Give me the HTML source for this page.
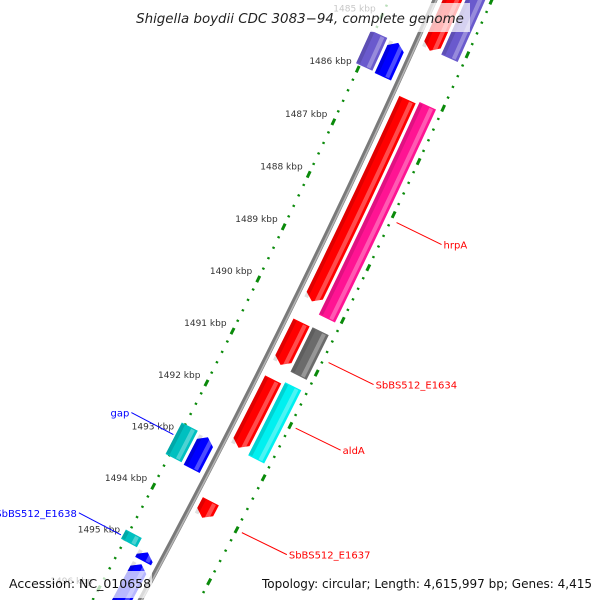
<!DOCTYPE html>
<html><head><meta charset="utf-8"><style>
html,body{margin:0;padding:0;background:#fff;width:600px;height:600px;overflow:hidden;}
svg{display:block;font-family:"DejaVu Sans","Liberation Sans",sans-serif;}
</style></head><body>
<svg id="map" width="600" height="600" viewBox="0 0 600 600" xmlns="http://www.w3.org/2000/svg">
<g id="ticks"></g>
<g id="backbone"></g>
<g id="features"></g>
<g id="labels"></g>
<rect x="130" y="3" width="340" height="29" fill="#fff" opacity="0.72"/>
<text x="300" y="23" text-anchor="middle" font-size="13.4" font-style="italic" fill="#222">Shigella boydii CDC 3083−94, complete genome</text>
<rect x="4" y="571" width="148" height="27" fill="#fff" opacity="0.72"/>
<text x="9" y="588" font-size="12.5" fill="#111">Accession: NC_010658</text>
<rect x="257" y="571" width="340" height="27" fill="#fff" opacity="0.72"/>
<text x="262" y="588" font-size="12.2" textLength="330" lengthAdjust="spacingAndGlyphs" fill="#111">Topology: circular; Length: 4,615,997 bp; Genes: 4,415</text>
</svg>
<script>
// data
const majorTicks = [1485, 1486, 1487, 1488, 1489, 1490, 1491, 1492, 1493, 1494, 1495, 1496];
const tickLabels = ["1485 kbp","1486 kbp","1487 kbp","1488 kbp","1489 kbp","1490 kbp","1491 kbp","1492 kbp","1493 kbp","1494 kbp","1495 kbp","1496 kbp"];
const featNames  = ["red-top","purple-top-right","hrpA","hrpA-box","E1634","E1634-box","aldA","aldA-box","E1637","purple-left","blue-left","gap","gap-blue","E1638","E1638-arrow","blue-bottom"];
const featStart  = [1484.0, 1484.0, 1486.12, 1486.07, 1490.34, 1490.33, 1491.43, 1491.38, 1493.77, 1485.30, 1485.30, 1492.80, 1492.82, 1494.88, 1495.05, 1495.28];
const featEnd    = [1485.20, 1485.18, 1489.94, 1490.09, 1491.15, 1491.18, 1492.74, 1492.78, 1494.09, 1485.92, 1485.94, 1493.41, 1493.43, 1495.06, 1495.22, 1497.0];
const featTrack  = [1, 2, 1, 2, 1, 2, 1, 2, 1, -2, -1, -2, -1, -2, -1, -1];
const featArrow  = [1, 0, 1, 0, 1, 0, 1, 0, 1, 0, -1, 0, -1, 0, -1, -1];
const featColor  = ["#ff0000","#6a5acd","#ff0000","#ff1493","#ff0000","#6b6b6b","#ff0000","#00f0f0","#ff0000","#6a5acd","#0000ff","#00c0c0","#0000ff","#00c0c0","#0000ff","#0000ff"];
const labelText  = ["hrpA","SbBS512_E1634","aldA","SbBS512_E1637","gap","SbBS512_E1638"];
const labelKbp   = [1488.1, 1490.75, 1492.0, 1494.0, 1493.05, 1495.0];
const labelSide  = [1, 1, 1, 1, -1, -1];

// geometry
const NS = "http://www.w3.org/2000/svg";
const CX = -7559, CY = -3553, R = 8748, A0 = 0.4291, K = 0.00667;
function pt(kbp, off){ const a = A0 + (kbp-1486)*K, r = R + off; return [CX + r*Math.cos(a), CY + r*Math.sin(a)]; }
function arcPts(k1, k2, off){ const out=[]; const n=Math.max(2,Math.ceil(Math.abs(k2-k1)/0.2)); for(let i=0;i<=n;i++){ out.push(pt(k1+(k2-k1)*i/n, off)); } return out; }
function mk(tag, attrs, parent){ const e=document.createElementNS(NS, tag); for(const k in attrs) e.setAttribute(k, attrs[k]); parent.appendChild(e); return e; }
const trackOff = {"1":[7,25],"2":[28,46],"-1":[-25,-7],"-2":[-46,-28]};

// ruler
const tg = document.getElementById('ticks');
[-42, 52].forEach(function(off){
  for (let k = 1484; k <= 1497.001; k += 0.2) {
    const kk = Math.round(k*10)/10;
    const major = Math.abs(kk - Math.round(kk)) < 0.01;
    const h = major ? 0.06 : 0.018;
    const a = pt(kk - h, off), b = pt(kk + h, off);
    const l = mk('line', {x1:a[0], y1:a[1], x2:b[0], y2:b[1], stroke:'#0a8a0a', 'stroke-width':major?3:2.5}, tg);
    
    
  }
});
majorTicks.forEach(function(k, i){
  const p = pt(k, -42);
  const t = mk('text', {x:p[0]-6, y:p[1]-5, 'text-anchor':'end', 'font-size':9, fill:'#333'}, tg);
  t.textContent = tickLabels[i];
  
  
});

// backbone
const bg = document.getElementById('backbone');
const bp = arcPts(1483.5, 1497.5, 0).map(p=>p.join(',')).join(' ');
const b1 = mk('polyline', {points:bp, fill:'none', stroke:'#7a7a7a', 'stroke-width':5}, bg);


const bp2 = arcPts(1483.5, 1497.5, 1.2).map(p=>p.join(',')).join(' ');
const b2 = mk('polyline', {points:bp2, fill:'none', stroke:'#b5b5b5', 'stroke-width':1.5}, bg);



// features
const fg = document.getElementById('features');
function shape(s, e, o1, o2, arrow){
  const head = 0.11;
  let pts = [];
  if (arrow === 1 && e - s > head) {
    pts = pts.concat(arcPts(s, e-head, o1));
    pts.push(pt(e, (o1+o2)/2));
    pts = pts.concat(arcPts(e-head, s, o2));
  } else if (arrow === -1 && e - s > head) {
    pts.push(pt(s, (o1+o2)/2));
    pts = pts.concat(arcPts(s+head, e, o1));
    pts = pts.concat(arcPts(e, s+head, o2));
  } else if (arrow !== 0) {
    if (arrow === 1) { pts.push(pt(s,o1)); pts.push(pt(e,(o1+o2)/2)); pts.push(pt(s,o2)); }
    else { pts.push(pt(s,(o1+o2)/2)); pts.push(pt(e,o1)); pts.push(pt(e,o2)); }
  } else {
    pts = pts.concat(arcPts(s, e, o1)).concat(arcPts(e, s, o2));
  }
  return pts.map(p=>p.join(',')).join(' ');
}
featStart.forEach(function(s, i){
  const e = featEnd[i], o = trackOff[String(featTrack[i])];
  const g = mk('g', {}, fg);
  
  
  mk('polygon', {points:shape(s, e, o[0], o[1], featArrow[i]), fill:featColor[i]}, g);
  const w = o[1]-o[0];
  mk('polygon', {points:shape(s+0.02, e-0.02, o[0]+w*0.62, o[0]+w*0.85, 0), fill:'#fff', opacity:0.3}, g);
  mk('polygon', {points:shape(s+0.02, e-0.02, o[0], o[0]+w*0.22, 0), fill:'#000', opacity:0.12}, g);
});

// labels
const lg = document.getElementById('labels');
labelText.forEach(function(txt, i){
  const side = labelSide[i];
  const col = side > 0 ? '#ff0000' : '#0000ff';
  const p1 = side > 0 ? pt(labelKbp[i], 58) : pt(labelKbp[i], -48);
  const p2 = side > 0 ? [p1[0]+45, p1[1]+22] : [p1[0]-42, p1[1]-22];
  const g = mk('g', {}, lg);
  
  
  mk('line', {x1:p1[0], y1:p1[1], x2:p2[0], y2:p2[1], stroke:col, 'stroke-width':1}, g);
  const t = mk('text', {x: side>0 ? p2[0]+2 : p2[0]-2, y:p2[1]+4, 'text-anchor': side>0?'start':'end', 'font-size':10, fill:col}, g);
  t.textContent = txt;
});
</script>
</body></html>
